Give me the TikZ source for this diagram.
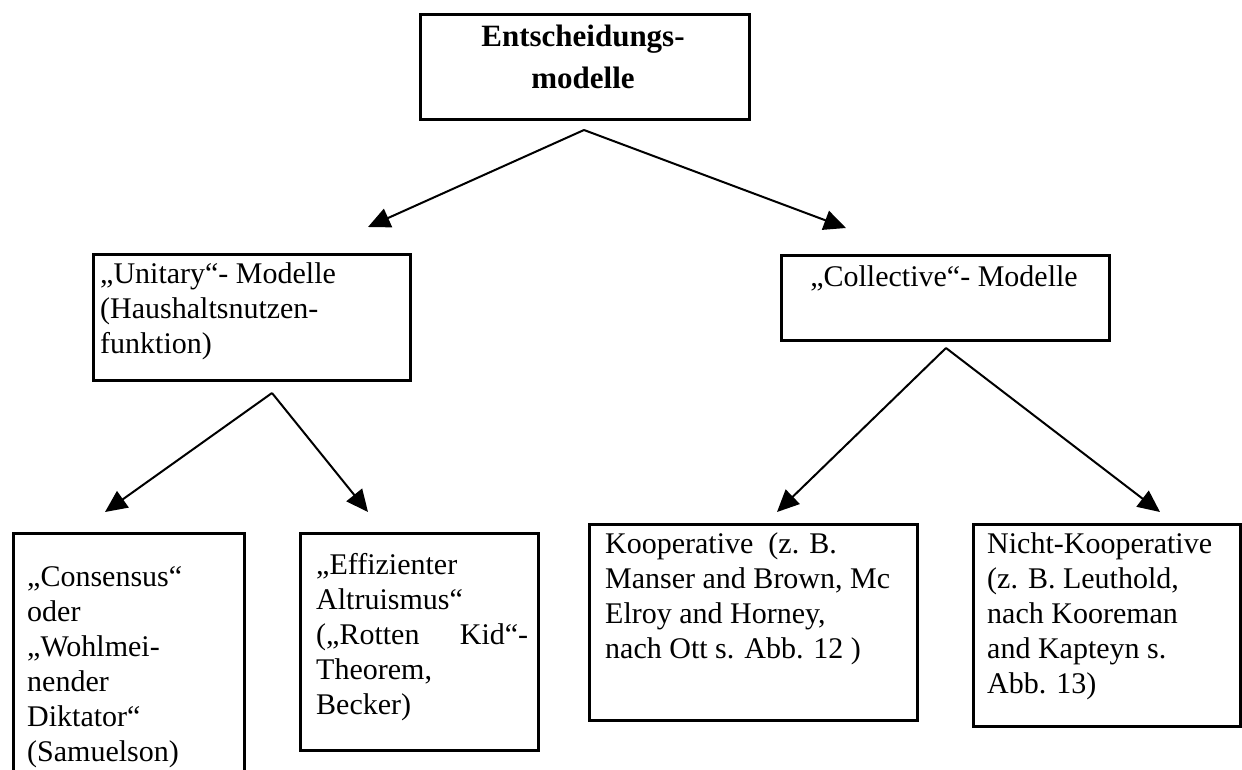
\documentclass[tikz,border=0pt]{standalone}
\usepackage{fontspec}
\setmainfont{Liberation Serif}
\usetikzlibrary{arrows.meta}

\tikzset{
  frame/.style={draw=black, line width=3pt, inner sep=0pt, anchor=north west},
  link/.style={draw=black, line width=2pt, -{Triangle[length=22pt,width=20pt]}},
  body/.style={anchor=base west, inner sep=0pt},
}
% left-aligned multi-line text whose reference point is the first baseline
\newcommand\textlines[2]{\parbox[t]{#1}{\raggedright\fontsize{30}{35}\selectfont #2}}

\begin{document}
\begin{tikzpicture}[x=1pt,y=-1pt]
\useasboundingbox (0,0) rectangle (1242,769);
\fill[white] (0,0) rectangle (1242,769);
\clip (0,0) rectangle (1242,769);

% root
\node[frame, minimum width=329pt, minimum height=105pt] (root) at (419,13) {};
\node[anchor=base, inner sep=0pt] (rootlabel) at (583,46)
  {\parbox[t]{300pt}{\centering\fontsize{31}{42}\selectfont\bfseries Entscheidungs-\\modelle}};

% second level
\node[frame, minimum width=317pt, minimum height=126pt] (unitary) at (92,253) {};
\node[body] (unitarylabel) at (100,283)
  {\textlines{310pt}{„Unitary“- Modelle\\(Haushaltsnutzen-\\funktion)}};

\node[frame, minimum width=328pt, minimum height=85pt] (collective) at (780,254) {};
\node[anchor=base, inner sep=0pt] (collectivelabel) at (944,286)
  {\fontsize{30}{35}\selectfont „Collective“- Modelle};

% third level
\node[frame, minimum width=231pt, minimum height=300pt] (consensus) at (12,532) {};
\node[body] (consensuslabel) at (27,586)
  {\textlines{215pt}{„Consensus“\\oder\\„Wohlmei-\\nender\\Diktator“\\(Samuelson)}};

\node[frame, minimum width=238pt, minimum height=217pt] (altruism) at (299,532) {};
\node[body] (altruismlabel) at (316,574)
  {\textlines{215pt}{„Effizienter\\Altruismus“\\\makebox[212pt]{(„Rotten\hfill Kid“-}\\Theorem,\\Becker)}};

\node[frame, minimum width=328pt, minimum height=196pt] (coop) at (588,523) {};
\node[body] (cooplabel) at (605,553)
  {\textlines{310pt}{Kooperative\ \ (z. B.\\Manser and Brown, Mc\\Elroy and Horney,\\nach Ott s. Abb. 12 )}};

\node[frame, minimum width=267pt, minimum height=202pt] (noncoop) at (972,523) {};
\node[body] (noncooplabel) at (987,553)
  {\textlines{250pt}{Nicht-Kooperative\\(z. B. Leuthold,\\nach Kooreman\\and Kapteyn s.\\Abb. 13)}};

% connectors
\coordinate (rootfork) at (584,130);
\coordinate (unitarytip) at (368,227);
\coordinate (collectivetip) at (846,228);
\draw[link] (rootfork) -- (unitarytip);
\draw[link] (rootfork) -- (collectivetip);

\coordinate (unitaryfork) at (272,393);
\coordinate (consensustip) at (105,512);
\coordinate (altruismtip) at (368,512);
\draw[link] (unitaryfork) -- (consensustip);
\draw[link] (unitaryfork) -- (altruismtip);

\coordinate (collectivefork) at (946,348);
\coordinate (cooptip) at (777,512);
\coordinate (noncooptip) at (1160,512);
\draw[link] (collectivefork) -- (cooptip);
\draw[link] (collectivefork) -- (noncooptip);
\end{tikzpicture}
\end{document}
